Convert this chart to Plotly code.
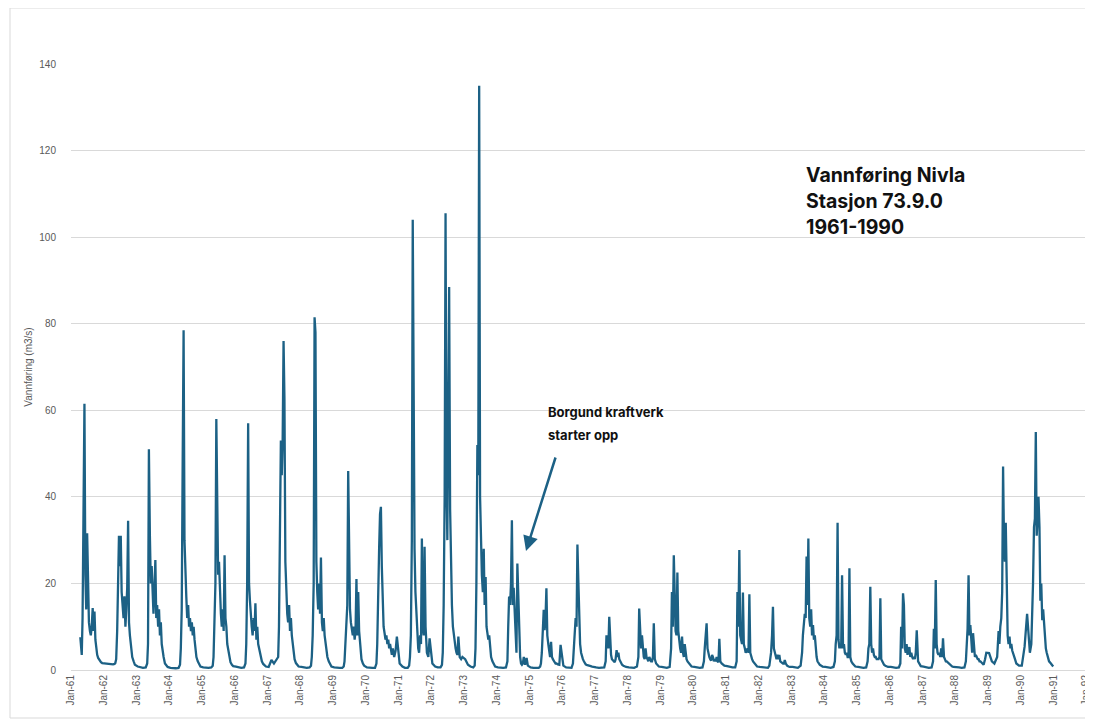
import plotly.graph_objects as go

# ---- data ----
# sampling days within each year (month-day)
sample_days = ["01-15", "02-15", "03-15", "04-15", "05-01", "05-10", "05-20", "05-31",
               "06-10", "06-20", "06-30", "07-10", "07-20", "07-31", "08-10", "08-20",
               "08-31", "09-10", "09-20", "09-30", "10-10", "10-20", "10-31", "11-15",
               "12-01", "12-15"]

q1961 = [None, None, None, 7.6, 3.5, 12, 30, 61.5, 22, 14, 31.6, 15, 11, 9, 8, 10, 14.3, 9, 13.5, 7, 5, 3.5, 2.8, 2.2, 1.8, 1.6]
q1962 = [1.5, 1.4, 1.3, 1.3, 1.4, 1.6, 2.5, 9, 20, 31, 24, 31, 18, 15, 12, 17, 10, 14, 19, 34.5, 11, 8, 5, 3, 2, 1.2]
q1963 = [0.8, 0.6, 0.5, 0.6, 1.5, 6, 51, 31, 20, 24, 16, 13, 18, 25.4, 12, 15, 10, 14, 8, 11, 6, 4, 3, 1.5, 1, 0.7]
q1964 = [0.5, 0.4, 0.4, 0.5, 1.2, 5, 14, 49, 78.5, 30, 19, 17, 12, 15, 10, 12, 9, 11, 8, 10, 7, 5, 3, 2, 1.2, 0.8]
q1965 = [0.6, 0.5, 0.5, 0.6, 1, 3, 9, 20, 58, 30, 22, 25, 16, 13, 10, 14, 9, 26.5, 12, 10, 6, 4.5, 3, 1.8, 1.2, 0.9]
q1966 = [0.8, 0.6, 0.5, 0.6, 1.5, 6, 20, 57, 20, 16, 12, 10, 8, 12, 9, 15.4, 7, 10, 6, 5, 4, 3, 2, 1.4, 1, 0.8]
q1967 = [0.7, 2.3, 1.5, 2.5, 3, 10, 30, 53, 45, 53, 76, 62.5, 25, 15.4, 13, 11, 15, 9, 12, 8, 6, 4, 2.5, 1.6, 1.1, 0.8]
q1968 = [0.7, 0.6, 0.5, 0.6, 1, 3, 8, 20, 81.5, 78, 25, 18, 14, 20, 13, 26, 11, 9, 12, 8, 6, 4, 3, 2, 1.2, 0.8]
q1969 = [0.6, 0.5, 0.5, 0.5, 0.8, 2, 6, 10, 15, 46, 20, 14, 11, 9, 8, 10, 7, 9, 21, 8, 18, 9, 5, 2.5, 1.5, 1]
q1970 = [0.6, 0.5, 0.5, 0.5, 1.5, 6, 20, 28, 36, 37.7, 24, 14, 10, 8.5, 7, 8, 6, 7, 5, 6, 4.6, 3.5, 5, 3, 4.5, 7.7]
q1971 = [1.5, 0.8, 0.5, 0.5, 1, 3, 8, 30, 104, 53, 28, 18, 13, 7, 5, 4, 8, 6, 30.4, 10, 8, 28.5, 10, 4, 3, 7.3]
q1972 = [1.5, 0.8, 0.6, 0.6, 1.2, 4, 15, 40, 105.5, 45, 30, 60, 88.5, 37, 21, 15, 10, 8, 6, 5, 4, 3.5, 7.7, 3, 2.5, 3]
q1973 = [2.5, 1.2, 0.8, 0.6, 1, 5, 20, 52, 45, 135, 40, 28, 22, 18, 28, 15, 21.5, 10, 8, 7, 8, 5, 3, 2, 1.2, 0.8]
q1974 = [0.6, 0.5, 0.5, 0.6, 2, 10, 17, 15, 20, 34.6, 15, 19, 14, 8, 4, 24.6, 17, 6, 3, 1.5, 1.2, 1.5, 3, 1.2, 2.8, 1]
q1975 = [0.6, 0.5, 0.5, 0.5, 0.8, 1.5, 4, 9, 13.9, 9.2, 12, 18.9, 8, 6, 4, 3, 6.5, 3, 2.5, 2, 1.8, 1.5, 1.5, 1.3, 1.2, 5.8]
q1976 = [1, 0.6, 0.5, 0.5, 1.5, 4, 8, 12, 10, 29, 20.8, 11, 6, 4, 3, 2.5, 2, 1.5, 1.3, 1.2, 1.1, 1, 1, 0.9, 0.8, 0.7]
q1977 = [0.6, 0.5, 0.5, 0.6, 2, 8, 6, 5, 12.3, 5, 3.5, 2.5, 2.2, 2, 1.8, 2.5, 4.6, 3, 4, 2.5, 2, 1.5, 1.2, 1, 0.8, 0.7]
q1978 = [0.6, 0.5, 0.5, 0.8, 3, 14.2, 7, 5, 8, 4, 3, 2.5, 5, 3, 2.5, 2, 3, 2.5, 2, 2, 3, 10.8, 2.5, 1.5, 1, 0.8]
q1979 = [0.7, 0.6, 0.5, 0.7, 5, 18, 10, 26.5, 12, 9, 8, 22.5, 9, 6, 5, 4, 7.7, 4, 3, 6, 3, 2.5, 2, 1.5, 1, 0.8]
q1980 = [0.7, 0.6, 0.5, 0.6, 2, 5, 7, 10.8, 5, 3.5, 3, 2.5, 2.2, 3.5, 3, 2, 2.5, 2, 3, 2, 1.8, 7.2, 2, 1.5, 1.2, 1]
q1981 = [0.9, 0.7, 0.6, 0.6, 2, 18, 10, 27.7, 8, 7, 6, 17.9, 6, 5, 4, 4.5, 5, 4, 17.5, 4, 3, 2.5, 2, 1.5, 1, 0.8]
q1982 = [0.7, 0.6, 0.5, 0.5, 1, 2, 4, 8, 14.6, 5, 4, 3, 2.5, 3.5, 2.5, 3.5, 2, 1.8, 1.5, 1.5, 1.5, 2.3, 1.5, 1, 0.8, 0.7]
q1983 = [0.7, 0.6, 0.5, 1, 4, 8, 10, 13, 12, 26.2, 15, 30.4, 12, 10, 14, 8, 10.4, 7, 8, 5, 3, 2, 1.5, 1.2, 1, 0.8]
q1984 = [0.7, 0.6, 0.5, 0.7, 2, 6, 8, 34, 7, 5, 6, 5, 21.9, 5, 6, 4, 3.5, 4, 3, 3, 23.5, 3, 2, 1.5, 1, 0.8]
q1985 = [0.7, 0.6, 0.5, 0.6, 2, 5, 6, 19.2, 6, 4, 5, 3.5, 3, 3, 2.5, 2.5, 2.5, 3, 16.6, 2.5, 2, 1.5, 1.2, 1, 0.8, 0.7]
q1986 = [0.7, 0.6, 0.5, 0.6, 1.5, 10, 5, 17.7, 15, 5, 4, 6, 3.5, 4.5, 5.3, 3, 4, 3, 2.5, 3, 2.5, 4, 9.2, 2, 1.2, 0.9]
q1987 = [0.8, 0.6, 0.5, 0.6, 2, 9.5, 5, 20.8, 6, 4, 3.5, 4, 3, 5, 3, 7.3, 3, 2.5, 2, 2, 1.8, 1.5, 1.3, 1, 0.8, 0.7]
q1988 = [0.7, 0.6, 0.5, 0.6, 2, 7, 9.5, 21.9, 8, 10.4, 5, 4, 8.5, 4, 3, 3.5, 3, 2.5, 2.5, 2, 2, 1.8, 1.5, 1.2, 2.5, 4]
q1989 = [3.9, 2, 1.5, 3, 9, 6, 10, 12, 18, 47, 30, 25, 34, 12, 8, 6, 7.7, 5, 6, 4.5, 4, 3.5, 2.5, 1.5, 1.2, 1]
q1990 = [1, 5.4, 13, 4, 6, 12, 20, 33, 35, 55, 31, 35, 40, 33, 16, 20, 11.5, 14, 10, 8, 5, 4, 3, 2, 1.6, 1.2]
last_date = "1990-12-31"
last_value = 0.8

years = list(range(1961, 1991))
yearly = [q1961, q1962, q1963, q1964, q1965, q1966, q1967, q1968, q1969, q1970,
          q1971, q1972, q1973, q1974, q1975, q1976, q1977, q1978, q1979, q1980,
          q1981, q1982, q1983, q1984, q1985, q1986, q1987, q1988, q1989, q1990]

dates, flow = [], []
for yr, vals in zip(years, yearly):
    for d, v in zip(sample_days, vals):
        if v is None:
            continue
        dates.append(f"{yr}-{d}")
        flow.append(v)
dates.append(last_date)
flow.append(last_value)

y_ticks = [0, 20, 40, 60, 80, 100, 120, 140]
x_ticks = [f"{y}-01-01" for y in range(1961, 1993)]

# ---- figure ----
OFF = 8                      # page body margin of the browser
W, H = 1093 - OFF, 719 - OFF
PL, PR, PT, PB = 71, 1086, 64, 670   # plot area in screen pixels
L, R, T, B = PL - OFF, W - (PR - OFF), PT - OFF, H - (PB - OFF)
pw, ph = PR - PL, PB - PT

def px(x):
    return (x - PL) / pw

def py(y):
    return (PB - y) / ph

LINE = "#1c6185"
GRAY = "#595959"

fig = go.Figure()
fig.add_trace(go.Scatter(x=dates, y=flow, mode="lines",
                         line=dict(color=LINE, width=2.3), hoverinfo="x+y",
                         showlegend=False))

fig.update_layout(
    width=W, height=H,
    margin=dict(l=L, r=R, t=T, b=B, autoexpand=False),
    paper_bgcolor="white", plot_bgcolor="white",
    font=dict(family="Liberation Sans, Arial, sans-serif", color=GRAY, size=10),
)
fig.update_xaxes(
    type="date", range=["1961-01-01", "1992-01-01"],
    tickvals=x_ticks, tickformat="%b-%y", tickangle=-90,
    showgrid=False, showline=True, linecolor="#d9d9d9", linewidth=1,
    ticks="", zeroline=False, tickfont=dict(size=10, color=GRAY),
    ticklabeloverflow="allow",
)
fig.update_yaxes(
    range=[0, 140], tickvals=y_ticks, showgrid=True, gridcolor="#d9d9d9",
    gridwidth=1, zeroline=False, showline=False, ticks="",
    tickfont=dict(size=10, color=GRAY), ticklabelstandoff=14,
    title=dict(text="Vannføring (m3/s)", font=dict(size=10, color=GRAY), standoff=4),
    automargin=False,
)

# chart-area border
fig.add_shape(type="rect", xref="paper", yref="paper",
              x0=px(10), x1=px(1092), y0=py(718), y1=py(8),
              line=dict(color="#d9d9d9", width=1), fillcolor="rgba(0,0,0,0)", layer="below")

TF = "Inter, Lato, Open Sans, sans-serif"
for txt, yy in [("Vannføring Nivla", 175), ("Stasjon 73.9.0", 201), ("1961-1990", 227)]:
    fig.add_annotation(xref="paper", yref="paper", x=px(804), y=py(yy), text=f"<b>{txt}</b>",
                       showarrow=False, xanchor="left", yanchor="middle",
                       font=dict(family=TF, size=19.5, color="#111111"))
for txt, yy in [("Borgund kraftverk", 412), ("starter opp", 435)]:
    fig.add_annotation(xref="paper", yref="paper", x=px(546), y=py(yy), text=f"<b>{txt}</b>",
                       showarrow=False, xanchor="left", yanchor="middle",
                       font=dict(family=TF, size=13, color="#111111"))

# arrow pointing at the 1974 startup
fig.add_annotation(xref="paper", yref="paper", x=px(526), y=py(551), text="",
                   showarrow=True, ax=30, ay=-95, arrowcolor=LINE, arrowwidth=2.5,
                   arrowhead=2, arrowsize=1.2, standoff=0)

fig.write_html("out.html")
